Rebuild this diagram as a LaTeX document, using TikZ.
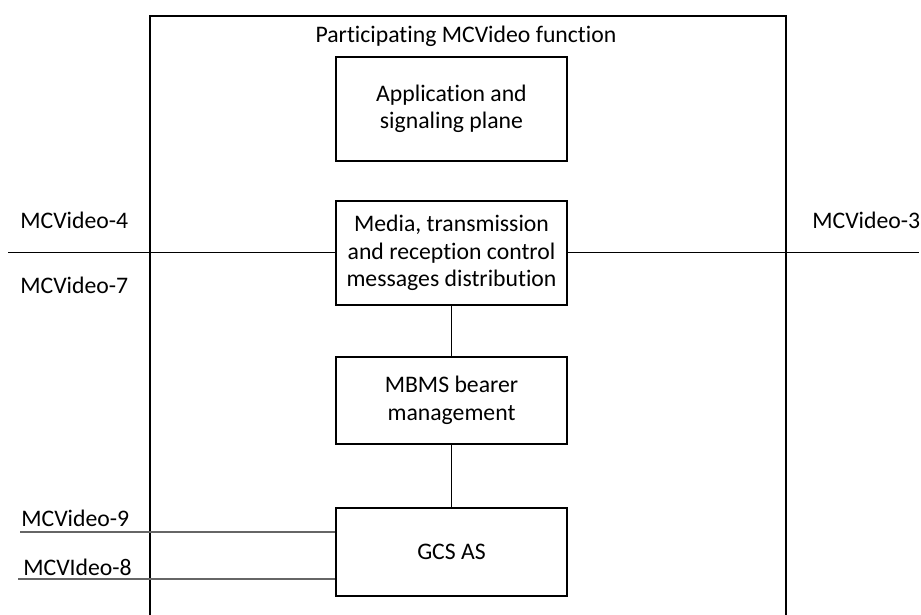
\documentclass[tikz,border=0pt]{standalone}
\usepackage{fontspec}
\setmainfont{Carlito}[Ligatures=NoCommon]
\usetikzlibrary{positioning}
\tikzset{
    box/.style={rectangle, draw, line width=1.1pt, minimum width=4.62cm, align=center, font=\fontsize{13.5}{15.6}\selectfont},
    label/.style={anchor=west, inner sep=0pt, font=\fontsize{13.5}{15.6}\selectfont},
    line/.style={line width=0.6pt},
    greyline/.style={line width=0.6pt, draw=black!60},
    border/.style={line width=1.1pt}
}
\begin{document}
\begin{tikzpicture}
    \useasboundingbox (0,0) rectangle (18.42,-12.3);

    % Participating function frame (open at the bottom)
    \draw[border] (3.0,-12.3) -- (3.0,-0.314) -- (15.72,-0.314) -- (15.72,-12.3);
    \node[font=\fontsize{13.5}{15.6}\selectfont] (title) at (9.32,-0.72) {Participating MCVideo function};

    % Boxes
    \node[box, minimum height=2.08cm] (app) at (9.03,-2.18) {Application and\\signaling plane};
    \node[box, minimum height=2.08cm, below=0.76cm of app] (media) {Media, transmission\\and reception control\\messages distribution};
    \node[box, minimum height=1.74cm, below=1.0cm of media] (mbms) {MBMS bearer\\management};
    \node[box, minimum height=1.76cm, below=1.24cm of mbms] (gcs) {GCS AS};

    % Free ends
    \coordinate (leftend) at (0.16,0 |- media.center);
    \coordinate (rightend) at (18.38,0 |- media.center);
    \coordinate (nineend) at (0.4,-10.64);
    \coordinate (eightend) at (0.36,-11.58);

    % Lines
    \draw[line] (leftend) -- (media.west);
    \draw[line] (media.east) -- (rightend);
    \draw[line] (media) -- (mbms);
    \draw[line] (mbms) -- (gcs);
    \draw[greyline] (nineend) -- (nineend -| gcs.west);
    \draw[greyline] (eightend) -- (eightend -| gcs.west);

    % Reference point labels
    \node[label] (mcv4) at (0.4,-4.4) {MCVideo-4};
    \node[label] (mcv7) at (0.4,-5.7) {MCVideo-7};
    \node[label] (mcv3) at (16.24,-4.4) {MCVideo-3};
    \node[label] (mcv9) at (0.42,-10.36) {MCVideo-9};
    \node[label] (mcv8) at (0.46,-11.34) {MCVIdeo-8};
\end{tikzpicture}
\end{document}
